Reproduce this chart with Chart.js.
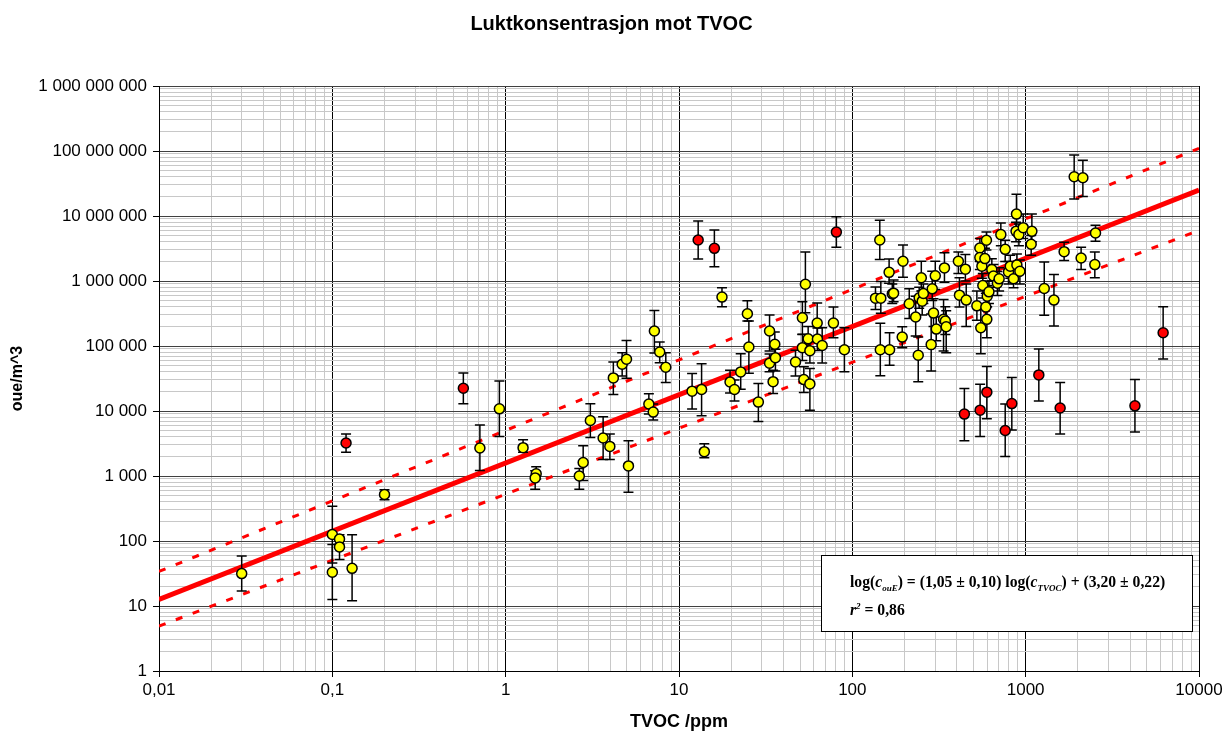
<!DOCTYPE html>
<html>
<head>
<meta charset="utf-8">
<title>Luktkonsentrasjon mot TVOC</title>
<script src="https://cdn.jsdelivr.net/npm/chart.js@4.4.0/dist/chart.umd.min.js"></script>
<style>
  html, body { margin: 0; padding: 0; background: #fff; }
</style>
</head>
<body>
<canvas id="luktChart" width="1223" height="733"></canvas>
<script>
// [TVOC ppm, oue/m^3, error bar low, error bar high]
const yellowPoints = [
  [0.030, 31.5, 17, 59], [0.10, 126, 46, 343], [0.11, 107, 90, 125], [0.11, 81, 52, 114],
  [0.10, 33, 12.6, 88], [0.13, 38, 12, 125], [0.20, 519, 430, 612], [0.71, 2700, 1210, 6080],
  [0.92, 10800, 4060, 29000],
  [1.26, 2730, 2310, 3620], [1.50, 1080, 900, 1390], [1.48, 935, 625, 1200], [2.66, 1000, 625, 1300],
  [2.80, 1610, 850, 2930], [3.08, 7150, 3920, 12900], [3.65, 3840, 1790, 8150], [3.99, 2850, 1800, 4420],
  [4.18, 32300, 17900, 56800], [4.70, 52400, 34700, 78900], [4.98, 62500, 32000, 122000],
  [5.11, 1430, 562, 3490], [6.70, 12800, 9000, 18400], [7.10, 9620, 7250, 12800],
  [7.21, 170000, 78000, 353000], [7.74, 80900, 55400, 115000], [8.39, 47100, 27400, 78900],
  [11.9, 20200, 10700, 37600],
  [13.5, 21400, 8440, 53500], [14.0, 2370, 1910, 3140], [17.7, 565000, 401000, 784000],
  [19.7, 28000, 19000, 42400], [20.9, 21400, 14300, 30000], [22.7, 39900, 21700, 76200],
  [24.8, 313000, 242000, 495000], [25.3, 96600, 38100, 242000], [28.7, 13700, 6900, 26400],
  [33.3, 170000, 83800, 299000], [33.3, 54300, 40000, 75000], [34.9, 28300, 18600, 42400],
  [35.7, 106000, 68000, 164000], [36.0, 66200, 41400, 88900], [47.0, 56800, 34700, 85900],
  [51.5, 272000, 151000, 478000], [51.5, 94200, 60000, 150000], [52.5, 30400, 19200, 48000],
  [53.6, 893000, 324000, 2790000], [55.6, 129000, 80000, 200000], [56.9, 84700, 55000, 130000],
  [56.9, 26100, 10300, 45000], [62.7, 225000, 122000, 457000], [62.9, 128000, 85000, 190000],
  [67.0, 102000, 54800, 191000], [77.8, 225000, 134000, 397000], [90.0, 87700, 40300, 191000],
  [136, 545000, 365000, 811000], [144, 4270000, 2140000, 8570000], [145, 87700, 35000, 223000],
  [146, 545000, 320000, 982000], [163, 1360000, 925000, 2180000], [164, 87700, 50600, 160000],
  [170, 634000, 450000, 900000], [173, 650000, 480000, 1040000], [194, 137000, 94200, 198000],
  [196, 2010000, 1140000, 3580000], [213, 446000, 266000, 757000], [232, 279000, 142000, 584000],
  [240, 72000, 28300, 137000], [243, 551000, 380000, 800000], [250, 1120000, 700000, 2010000],
  [253, 490000, 300000, 700000], [257, 643000, 450000, 900000], [285, 105000, 41400, 310000],
  [289, 757000, 500000, 1410000], [294, 321000, 200000, 531000], [301, 1200000, 741000, 2010000],
  [305, 182000, 120000, 280000], [336, 257000, 83800, 520000], [340, 1590000, 960000, 2730000],
  [344, 242000, 150000, 400000], [348, 198000, 78900, 350000], [409, 2010000, 1300000, 2790000],
  [415, 606000, 397000, 1120000], [449, 1520000, 1000000, 2550000], [454, 508000, 200000, 900000],
  [523, 415000, 250000, 700000], [544, 3220000, 2000000, 4500000], [544, 2290000, 1500000, 3300000],
  [551, 191000, 76200, 387000], [559, 1690000, 1100000, 2500000], [566, 853000, 550000, 1300000],
  [582, 2210000, 1500000, 3200000], [589, 397000, 250000, 650000], [594, 4230000, 3000000, 5660000],
  [597, 257000, 134000, 400000], [600, 584000, 400000, 850000], [614, 681000, 450000, 1000000],
  [638, 1500000, 1000000, 2200000], [652, 1190000, 800000, 1800000], [687, 925000, 600000, 1400000],
  [703, 1080000, 700000, 1600000], [719, 5170000, 3500000, 7780000], [762, 3070000, 2000000, 4230000],
  [796, 1380000, 900000, 2000000], [815, 1690000, 1100000, 2500000], [851, 1080000, 784000, 1500000],
  [880, 5810000, 4000000, 8000000], [885, 10700000, 6500000, 21700000], [890, 1770000, 1200000, 2600000],
  [914, 5170000, 3500000, 7500000], [926, 1410000, 900000, 2100000], [968, 6620000, 4500000, 10700000],
  [1076, 3670000, 2500000, 5000000], [1086, 5810000, 4000000, 10700000], [1280, 768000, 296000, 1960000],
  [1456, 508000, 203000, 1260000], [1667, 2830000, 2060000, 3930000],
  [1905, 40100000, 18200000, 87100000], [2089, 2260000, 1500000, 3300000],
  [2138, 38700000, 20000000, 72000000], [2506, 1790000, 1120000, 2790000],
  [2529, 5470000, 4080000, 7180000]
];

const redPoints = [
  [0.12, 3220, 2310, 4420], [0.57, 22400, 12900, 38500], [12.9, 4270000, 2180000, 8360000],
  [16.0, 3180000, 1650000, 6080000], [80.9, 5660000, 3300000, 9750000], [443, 8960, 3490, 22100],
  [546, 10300, 4060, 25900], [597, 19500, 7590, 48200], [762, 5020, 1990, 12800],
  [832, 13000, 5090, 32700], [1191, 35900, 14300, 89900], [1581, 11100, 4420, 27400],
  [4270, 12000, 4750, 30400], [6210, 160000, 63200, 401000]
];

// log(c_ouE) = (1,05 ± 0,10) log(c_TVOC) + (3,20 ± 0,22)
const fitSlope = 1.05;
const fitIntercept = 3.20;
const fitX = [0.01, 10000];

// dashed band, end points
const bandX = [0.01, 10000];
const bandUpper = [34, 1.1e8];
const bandLower = [4.9, 6.0e6];

const xTickLabels = ['0,01', '0,1', '1', '10', '100', '1000', '10000'];
const yTickLabels = ['1', '10', '100', '1 000', '10 000', '100 000', '1 000 000',
  '10 000 000', '100 000 000', '1 000 000 000'];

const FONT = '"Liberation Sans", Arial, sans-serif';

function isDecade(v) {
  const l = Math.log10(v);
  return Math.abs(l - Math.round(l)) < 1e-9;
}

// 1..9 x 10^n ticks, so every minor grid line is drawn
function logTicks(min, max) {
  const out = [];
  for (let e = Math.round(Math.log10(min)); e < Math.round(Math.log10(max)); e++) {
    for (let m = 1; m < 10; m++) out.push({ value: parseFloat((m * Math.pow(10, e)).toPrecision(10)) });
  }
  out.push({ value: max });
  return out;
}

const toPoints = rows => rows.map(r => ({ x: r[0], y: r[1], lo: r[2], hi: r[3] }));
const linePoints = (xs, ys) => xs.map((x, i) => ({ x: x, y: ys[i] }));
const fitY = fitX.map(x => Math.pow(10, fitIntercept + fitSlope * Math.log10(x)));

const errorBars = {
  id: 'errorBars',
  beforeDatasetDraw(chart, args) {
    const ds = chart.data.datasets[args.index];
    if (!ds.errorBars) return;
    const { ctx } = chart;
    const xs = chart.scales.x, ys = chart.scales.y;
    ctx.save();
    ctx.strokeStyle = '#000';
    ctx.lineWidth = 1.5;
    ds.data.forEach(p => {
      const px = xs.getPixelForValue(p.x);
      const top = ys.getPixelForValue(p.hi);
      const bot = ys.getPixelForValue(p.lo);
      ctx.beginPath();
      ctx.moveTo(px, top); ctx.lineTo(px, bot);
      ctx.moveTo(px - 5, top); ctx.lineTo(px + 5, top);
      ctx.moveTo(px - 5, bot); ctx.lineTo(px + 5, bot);
      ctx.stroke();
    });
    ctx.restore();
  }
};

const fitLabel = {
  id: 'fitLabel',
  afterDraw(chart) {
    const { ctx, chartArea } = chart;
    const bx = chartArea.right - 378, by = chartArea.bottom - 116;
    ctx.save();
    ctx.fillStyle = '#fff';
    ctx.fillRect(bx, by, 371, 76);
    ctx.strokeStyle = '#000';
    ctx.lineWidth = 1;
    ctx.strokeRect(bx + 0.5, by + 0.5, 371, 76);

    const serif = '"Liberation Serif", "Times New Roman", serif';
    const fontFor = (kind, s) => {
      if (kind === 'i') return 'italic bold ' + s + 'px ' + serif;
      if (kind === 's' || kind === 'u') return 'italic bold ' + Math.round(s * 0.6) + 'px ' + serif;
      return 'bold ' + s + 'px ' + serif;
    };
    const line1 = [['log(', 'n'], ['c', 'i'], ['ouE', 's'], [') = (1,05 ± 0,10) log(', 'n'],
      ['c', 'i'], ['TVOC', 's'], [') + (3,20 ± 0,22)', 'n']];
    const line2 = [['r', 'i'], ['2', 'u'], [' = 0,86', 'n']];

    const width = (segs, s) => segs.reduce((w, sg) => {
      ctx.font = fontFor(sg[1], s);
      return w + ctx.measureText(sg[0]).width;
    }, 0);
    const size = 16 * 319 / width(line1, 16);

    const put = (segs, x, y) => {
      ctx.fillStyle = '#000';
      ctx.textBaseline = 'alphabetic';
      segs.forEach(sg => {
        ctx.font = fontFor(sg[1], size);
        let dy = 0;
        if (sg[1] === 's') dy = size * 0.25;
        if (sg[1] === 'u') dy = -size * 0.4;
        ctx.fillText(sg[0], x, y + dy);
        x += ctx.measureText(sg[0]).width;
      });
    };
    put(line1, bx + 29, by + 32);
    put(line2, bx + 29, by + 60);
    ctx.restore();
  }
};

const axisGrid = (majorColor) => ({
  color: c => (c.tick && isDecade(c.tick.value)) ? majorColor : '#c8c8c8',
  tickColor: c => (c.tick && isDecade(c.tick.value)) ? '#000' : 'rgba(0,0,0,0)',
  tickLength: 6,
  lineWidth: 1
});

new Chart(document.getElementById('luktChart'), {
  type: 'scatter',
  data: {
    datasets: [
      {
        label: 'Målinger',
        data: toPoints(yellowPoints),
        errorBars: true,
        pointRadius: 5,
        pointHoverRadius: 5,
        pointBackgroundColor: '#ffff00',
        pointBorderColor: '#000',
        pointBorderWidth: 1.5,
        order: 1
      },
      {
        label: 'Avvikere',
        data: toPoints(redPoints),
        errorBars: true,
        pointRadius: 5,
        pointHoverRadius: 5,
        pointBackgroundColor: '#ff0000',
        pointBorderColor: '#000',
        pointBorderWidth: 1.5,
        order: 2
      },
      {
        label: 'Regresjon',
        data: linePoints(fitX, fitY),
        showLine: true,
        borderColor: '#ff0000',
        borderWidth: 5,
        pointRadius: 0,
        order: 3
      },
      {
        label: 'Øvre',
        data: linePoints(bandX, bandUpper),
        showLine: true,
        borderColor: '#ff0000',
        borderWidth: 3,
        borderDash: [7, 11],
        pointRadius: 0,
        order: 4
      },
      {
        label: 'Nedre',
        data: linePoints(bandX, bandLower),
        showLine: true,
        borderColor: '#ff0000',
        borderWidth: 3,
        borderDash: [7, 11],
        pointRadius: 0,
        order: 4
      }
    ]
  },
  options: {
    responsive: false,
    animation: false,
    // equal side padding keeps the title centred on the canvas
    layout: { padding: { left: 24, right: 24, top: 0, bottom: 0 } },
    plugins: {
      legend: { display: false },
      tooltip: { enabled: false },
      title: {
        display: true,
        text: 'Luktkonsentrasjon mot TVOC',
        color: '#000',
        font: { family: FONT, size: 20, weight: 'bold' },
        padding: { top: 12, bottom: 50 }
      }
    },
    scales: {
      x: {
        type: 'logarithmic',
        min: 0.01,
        max: 10000,
        afterBuildTicks: s => { s.ticks = logTicks(0.01, 10000); },
        afterFit: s => { s.height = 62; s.paddingRight = 0; },
        grid: axisGrid('#000'),
        border: { color: '#000', width: 1 },
        ticks: {
          autoSkip: false,
          maxRotation: 0,
          minRotation: 0,
          padding: 3,
          color: '#000',
          font: { family: FONT, size: 17 },
          callback: v => isDecade(v) ? xTickLabels[Math.round(Math.log10(v)) + 2] : ''
        },
        title: {
          display: true,
          text: 'TVOC /ppm',
          color: '#000',
          font: { family: FONT, size: 18, weight: 'bold' },
          padding: { top: 0, bottom: 0 }
        }
      },
      y: {
        type: 'logarithmic',
        min: 1,
        max: 1e9,
        afterBuildTicks: s => { s.ticks = logTicks(1, 1e9); },
        afterFit: s => { s.width = 135; },
        grid: axisGrid('#404040'),
        border: { color: '#000', width: 1 },
        ticks: {
          autoSkip: false,
          padding: 6,
          color: '#000',
          font: { family: FONT, size: 17 },
          callback: v => isDecade(v) ? yTickLabels[Math.round(Math.log10(v))] : ''
        },
        title: {
          display: true,
          text: 'oue/m^3',
          color: '#000',
          font: { family: FONT, size: 16, weight: 'bold' },
          padding: { top: -16, bottom: 0 }
        }
      }
    }
  },
  plugins: [errorBars, fitLabel]
});
</script>
</body>
</html>
